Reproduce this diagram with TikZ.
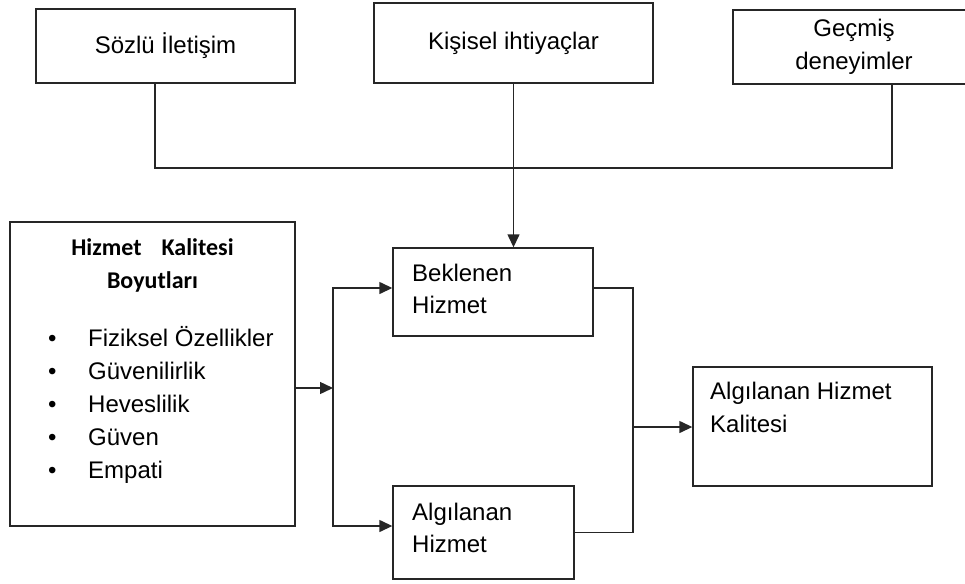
\documentclass[tikz,border=0pt]{standalone}
\usepackage{fontspec}
\setmainfont{Liberation Sans}
\newfontfamily\headfont{Carlito}
\usetikzlibrary{arrows.meta,calc}

\tikzset{
  frame/.style={draw=black!85, line width=1.4pt, inner sep=0pt},
  lbl/.style={inner sep=0pt, font=\fontsize{24}{32}\selectfont, align=left},
  link/.style={draw=black!85, line width=1.4pt},
  arr/.style={link, -{Triangle[length=13pt,width=12pt]}},
}

\begin{document}
\begin{tikzpicture}[x=1pt, y=-1pt]
  \useasboundingbox (0,0) rectangle (965,583);

  % sources of expectation
  \node[frame, minimum width=259pt, minimum height=74pt,
        font=\fontsize{24}{32}\selectfont] (verbal) at (165.5,46) {Sözlü İletişim};
  \node[frame, minimum width=279pt, minimum height=80pt,
        font=\fontsize{24}{32}\selectfont] (needs) at (513.5,43) {Kişisel ihtiyaçlar};
  \node[frame, minimum width=242pt, minimum height=74pt, align=center,
        font=\fontsize{24}{33}\selectfont] (past) at (854,47) {Geçmiş\\deneyimler};

  % service quality dimensions
  \node[frame, minimum width=285pt, minimum height=304pt] (dims) at (152.5,374) {};
  \node[inner sep=0pt, align=center, anchor=north,
        font=\headfont\bfseries\fontsize{24}{33}\selectfont]
        (dimstitle) at (152.5,238.5) {Hizmet\hspace{20pt}Kalitesi\\Boyutları};
  \node[inner sep=0pt, anchor=base west, font=\fontsize{24}{33}\selectfont]
        (dimslist) at (47.8,346.6) {%
    \begin{tabular}[t]{@{}l@{\hspace{31.8pt}}l@{}}
      • & Fiziksel Özellikler\\
      • & Güvenilirlik\\
      • & Heveslilik\\
      • & Güven\\
      • & Empati
    \end{tabular}};

  % expected and perceived service
  \node[frame, minimum width=200pt, minimum height=88pt] (expected) at (493,292) {};
  \node[lbl, anchor=north west] (expectedtxt) at (412,264.4) {Beklenen\\Hizmet};
  \node[frame, minimum width=181pt, minimum height=93pt] (perceived) at (483.5,532.5) {};
  \node[lbl, anchor=north west] (perceivedtxt) at (412,503.4) {Algılanan\\Hizmet};

  % result
  \node[frame, minimum width=239pt, minimum height=119pt] (quality) at (812.5,426.5) {};
  \node[lbl, anchor=north west, font=\fontsize{24}{33}\selectfont]
        (qualitytxt) at (710,382.4) {Algılanan Hizmet\\Kalitesi};

  % junction points
  \coordinate (bus) at (0,168);
  \coordinate (pastdrop) at ([xshift=38pt]past.south);
  \coordinate (fork) at (333,388);
  \coordinate (merge) at (633,427);

  % connectors
  \draw[link] ([xshift=-10.5pt]verbal.south) |- (bus -| pastdrop) -- (pastdrop);
  \draw[arr] (needs.south) -- (needs.south |- expected.north);
  \draw[arr] (dims.east |- fork) -- (fork);
  \draw[arr] (fork) |- ([yshift=4pt]expected.west);
  \draw[arr] (fork) |- ([yshift=6.5pt]perceived.west);
  \draw[link] ([yshift=4pt]expected.east) -| (merge) |- (perceived.east);
  \draw[arr] (merge) -- (merge -| quality.west);
\end{tikzpicture}
\end{document}
